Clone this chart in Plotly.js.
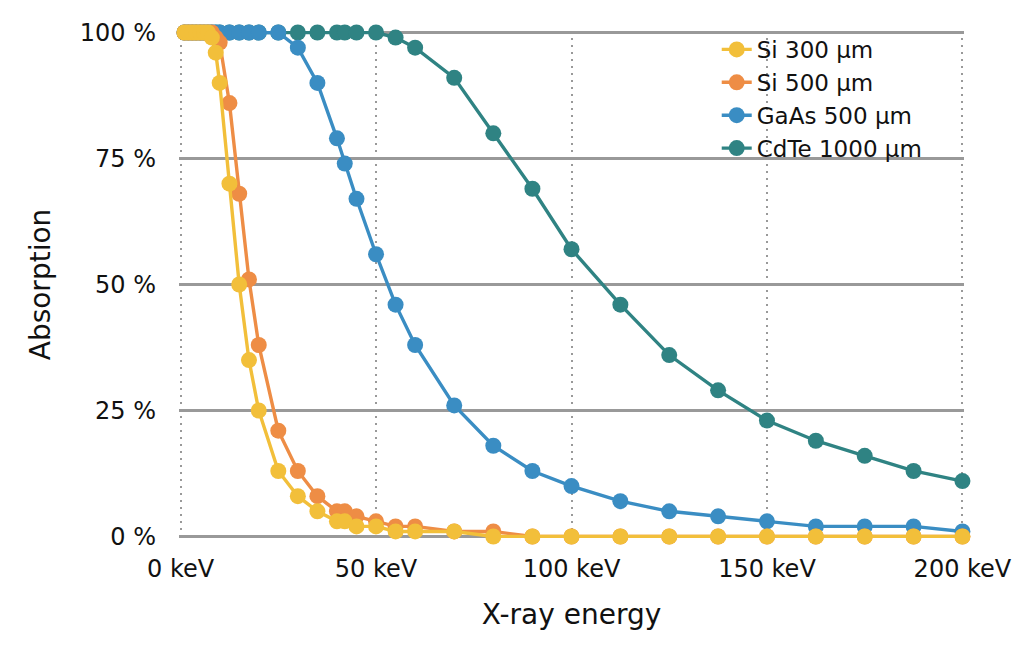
<!DOCTYPE html>
<html>
<head>
<meta charset="utf-8">
<script src="https://cdn.plot.ly/plotly-3.0.1.min.js"></script>
<style>html,body{margin:0;padding:0;background:#fff;}#chart{width:1030px;height:653px;}</style>
</head>
<body>
<div id="chart"></div>
<script>
// X-ray energy in keV
const energy = [1, 2, 3, 4, 5, 6, 7, 8, 9, 10, 12.5, 15, 17.5, 20, 25, 30, 35, 40, 42, 45, 50, 55, 60, 70, 80, 90, 100, 112.5, 125, 137.5, 150, 162.5, 175, 187.5, 200];
// Absorption in %
const si300  = [100, 100, 100, 100, 100, 100, 100, 99, 96, 90, 70, 50, 35, 25, 13, 8, 5, 3, 3, 2, 2, 1, 1, 1, 0, 0, 0, 0, 0, 0, 0, 0, 0, 0, 0];
const si500  = [100, 100, 100, 100, 100, 100, 100, 100, 99, 98, 86, 68, 51, 38, 21, 13, 8, 5, 5, 4, 3, 2, 2, 1, 1, 0, 0, 0, 0, 0, 0, 0, 0, 0, 0];
const gaas   = [100, 100, 100, 100, 100, 100, 100, 100, 100, 100, 100, 100, 100, 100, 100, 97, 90, 79, 74, 67, 56, 46, 38, 26, 18, 13, 10, 7, 5, 4, 3, 2, 2, 2, 1];
const cdte   = [100, 100, 100, 100, 100, 100, 100, 100, 100, 100, 100, 100, 100, 100, 100, 100, 100, 100, 100, 100, 100, 99, 97, 91, 80, 69, 57, 46, 36, 29, 23, 19, 16, 13, 11];
const seriesNames = ["Si 300 µm", "Si 500 µm", "GaAs 500 µm", "CdTe 1000 µm"];
const colors = ["#F2BF3A", "#EE8D45", "#3A8DC3", "#2F8383"];
const xTickVals = [0, 50, 100, 150, 200];
const xTickText = ["0 keV", "50 keV", "100 keV", "150 keV", "200 keV"];
const yTickVals = [0, 25, 50, 75, 100];
const yTickText = ["0 %", "25 %", "50 %", "75 %", "100 %"];

const values = [si300, si500, gaas, cdte];
const traces = [];
for (let i = values.length - 1; i >= 0; i--) {
  traces.push({
    type: 'scatter', mode: 'lines+markers', name: seriesNames[i],
    x: energy, y: values[i], cliponaxis: false,
    line: {color: colors[i], width: 3.4},
    marker: {color: colors[i], size: 16}
  });
}
const layout = {
  width: 1030, height: 653,
  margin: {l: 179, r: 66, t: 31, b: 115},
  paper_bgcolor: '#fff', plot_bgcolor: '#fff',
  font: {family: 'DejaVu Sans, Verdana, sans-serif', color: '#111', size: 24},
  showlegend: true,
  legend: {traceorder: 'reversed', x: 0.685, y: 1.006, xanchor: 'left', yanchor: 'top',
           font: {size: 23}, bgcolor: 'rgba(255,255,255,0)', itemwidth: 30, tracegroupgap: 0},
  xaxis: {range: [-0.4, 200.4], tickvals: xTickVals, ticktext: xTickText, showline: false,
          zeroline: false, showgrid: true, gridcolor: '#999', gridwidth: 2, griddash: '2px,5px',
          ticks: '', ticklabelstandoff: 14,
          title: {text: 'X-ray energy', font: {size: 28}, standoff: 22}},
  yaxis: {range: [-0.3, 100.3], tickvals: yTickVals, ticktext: yTickText, showline: false,
          zeroline: false, showgrid: true, gridcolor: '#999', gridwidth: 2.5,
          ticks: '', ticklabelstandoff: 22,
          title: {text: 'Absorption', font: {size: 28}, standoff: 20}}
};
Plotly.newPlot('chart', traces, layout, {displayModeBar: false, staticPlot: true});
</script>
</body>
</html>
